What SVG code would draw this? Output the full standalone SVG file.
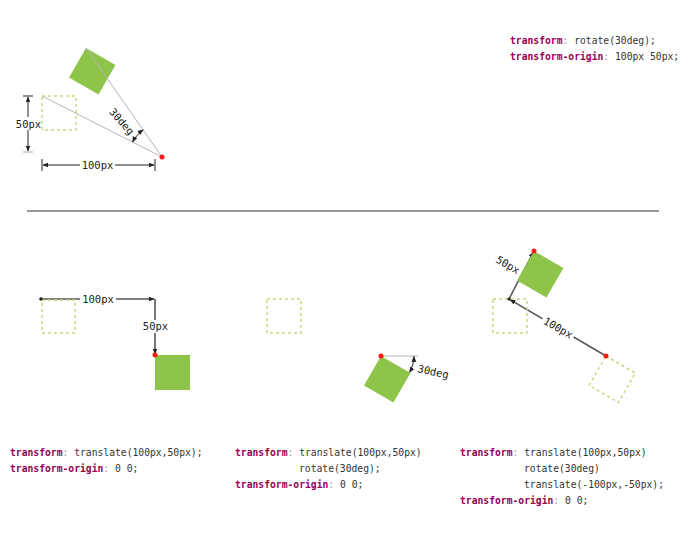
<svg xmlns="http://www.w3.org/2000/svg" width="688" height="540" viewBox="0 0 688 540">
<defs>
<marker id="ah" viewBox="0 0 10 10" refX="9" refY="5" markerWidth="6" markerHeight="6" orient="auto-start-reverse" markerUnits="userSpaceOnUse">
<path d="M0,1 L10,5 L0,9 z" fill="#222"/>
</marker>
<style>
.code{font-family:"DejaVu Sans Mono","Liberation Mono",monospace;font-size:9.7px;fill:#333}
.prop{fill:#990055;font-weight:bold}
.punc{fill:#999}
.lbl{font-family:"DejaVu Sans Mono","Liberation Mono",monospace;font-size:10.5px;fill:#222}
.dash{fill:none;stroke:#c9d77e;stroke-width:1.5;stroke-dasharray:3,3}
.green{fill:#8fc44a}
.gline{stroke:#b5b5b5;stroke-width:1;fill:none}
.dim{stroke:#222;stroke-width:1;fill:none}
.dline{stroke:#555;stroke-width:1.6;fill:none}
.red{fill:#ff1a1a}
</style>
</defs>
<rect width="688" height="540" fill="#fff"/>

<!-- top diagram -->
<g id="top-original"><rect class="dash" x="42" y="96" width="34" height="34"/></g>
<g id="top-rotated"><rect class="green" x="86" y="48" width="34" height="34" transform="rotate(30 86 48)"/></g>
<g id="connectors">
<line class="gline" x1="42" y1="96" x2="162" y2="157"/>
<line class="gline" x1="86" y1="48" x2="162" y2="157"/>
<path class="dim" d="M143.1,129.9 A33,33 0 0 0 132.6,142" marker-start="url(#ah)" marker-end="url(#ah)"/>
<line class="dim" x1="28" y1="97" x2="28" y2="151" marker-start="url(#ah)" marker-end="url(#ah)"/>
<line class="dim" x1="23" y1="96" x2="33" y2="96"/>
<line x1="23" y1="152" x2="33" y2="152" stroke="#aaa" stroke-width="1"/>
<line class="dim" x1="43" y1="165" x2="154" y2="165" marker-start="url(#ah)" marker-end="url(#ah)"/>
<line class="dim" x1="42" y1="159" x2="42" y2="171"/>
<line class="dim" x1="155" y1="159" x2="155" y2="171"/>

<line class="dline" x1="41" y1="299" x2="154" y2="299" marker-end="url(#ah)"/>
<line class="dline" x1="155" y1="299" x2="155" y2="354" marker-end="url(#ah)"/>

<line class="gline" x1="381" y1="356" x2="418" y2="356"/>
<path class="dim" d="M414,356.5 A33,33 0 0 1 409.6,372.5" marker-start="url(#ah)" marker-end="url(#ah)"/>

<line class="dline" x1="606" y1="356" x2="510" y2="299.6" marker-end="url(#ah)"/>
<line class="dline" x1="509" y1="299" x2="533.5" y2="252" marker-end="url(#ah)"/>
</g>
<g id="top-labels">
<text class="lbl" text-anchor="middle" transform="translate(119,124) rotate(48)">30deg</text>
<rect x="16" y="117" width="25" height="13" fill="#fff"/>
<text class="lbl" x="28.5" y="127.5" text-anchor="middle">50px</text>
<rect x="80" y="158" width="35" height="13" fill="#fff"/>
<text class="lbl" x="97.5" y="168.5" text-anchor="middle">100px</text>
</g>
<circle class="red" cx="162" cy="157" r="2.5"/>

<g id="top-code">
<text class="code" x="510" y="44"><tspan class="prop">transform</tspan><tspan class="punc">:</tspan> rotate(30deg);</text>
<text class="code" x="510" y="60"><tspan class="prop">transform-origin</tspan><tspan class="punc">:</tspan> 100px 50px;</text>
</g>

<g id="divider"><line x1="27" y1="211" x2="659" y2="211" stroke="#777" stroke-width="1.5"/></g>

<!-- bottom left -->
<g id="bl-original"><rect class="dash" x="42" y="300" width="33" height="33"/></g>
<g id="bl-moved"><rect class="green" x="155" y="355" width="35" height="35"/></g>
<g id="bl-labels">
<circle cx="41" cy="299" r="1.8" fill="#222"/>
<rect x="80" y="292" width="36" height="13" fill="#fff"/>
<text class="lbl" x="98" y="302.5" text-anchor="middle">100px</text>
<rect x="142" y="320" width="26" height="13" fill="#fff"/>
<text class="lbl" x="155.5" y="330" text-anchor="middle">50px</text>
<circle class="red" cx="155" cy="355" r="2.5"/>
</g>
<g id="bl-code">
<text class="code" x="10" y="456"><tspan class="prop">transform</tspan><tspan class="punc">:</tspan> translate(100px,50px);</text>
<text class="code" x="10" y="472"><tspan class="prop">transform-origin</tspan><tspan class="punc">:</tspan> 0 0;</text>
</g>

<!-- bottom middle -->
<g id="bm-original"><rect class="dash" x="267" y="299" width="34" height="34"/></g>
<g id="bm-moved"><rect class="green" x="381" y="356" width="34" height="34" transform="rotate(30 381 356)"/></g>
<g id="bm-labels">
<circle class="red" cx="381" cy="356" r="2.5"/>
<text class="lbl" transform="translate(417,372) rotate(12)">30deg</text>
</g>
<g id="bm-code">
<text class="code" x="235" y="456"><tspan class="prop">transform</tspan><tspan class="punc">:</tspan> translate(100px,50px)</text>
<text class="code" x="299" y="472">rotate(30deg);</text>
<text class="code" x="235" y="488"><tspan class="prop">transform-origin</tspan><tspan class="punc">:</tspan> 0 0;</text>
</g>

<!-- bottom right -->
<g id="br-original"><rect class="dash" x="493" y="299" width="34" height="34"/></g>
<g id="br-intermediate"><rect class="dash" x="606" y="356" width="34" height="34" transform="rotate(30 606 356)"/></g>
<g id="br-moved"><rect class="green" x="534" y="251" width="34" height="34" transform="rotate(30 534 251)"/></g>
<g id="br-labels">
<g transform="translate(558,328) rotate(30)">
<rect x="-18" y="-6.5" width="36" height="13" fill="#fff"/>
<text class="lbl" x="0" y="3.5" text-anchor="middle">100px</text>
</g>
<text class="lbl" text-anchor="middle" transform="translate(506,268) rotate(30)">50px</text>
<circle cx="509" cy="299" r="1.6" fill="#222"/>
<circle class="red" cx="606" cy="356" r="2.5"/>
<circle class="red" cx="534" cy="251" r="2.5"/>
</g>
<g id="br-code">
<text class="code" x="460" y="456"><tspan class="prop">transform</tspan><tspan class="punc">:</tspan> translate(100px,50px)</text>
<text class="code" x="524" y="472">rotate(30deg)</text>
<text class="code" x="524" y="488">translate(-100px,-50px);</text>
<text class="code" x="460" y="504"><tspan class="prop">transform-origin</tspan><tspan class="punc">:</tspan> 0 0;</text>
</g>
</svg>
